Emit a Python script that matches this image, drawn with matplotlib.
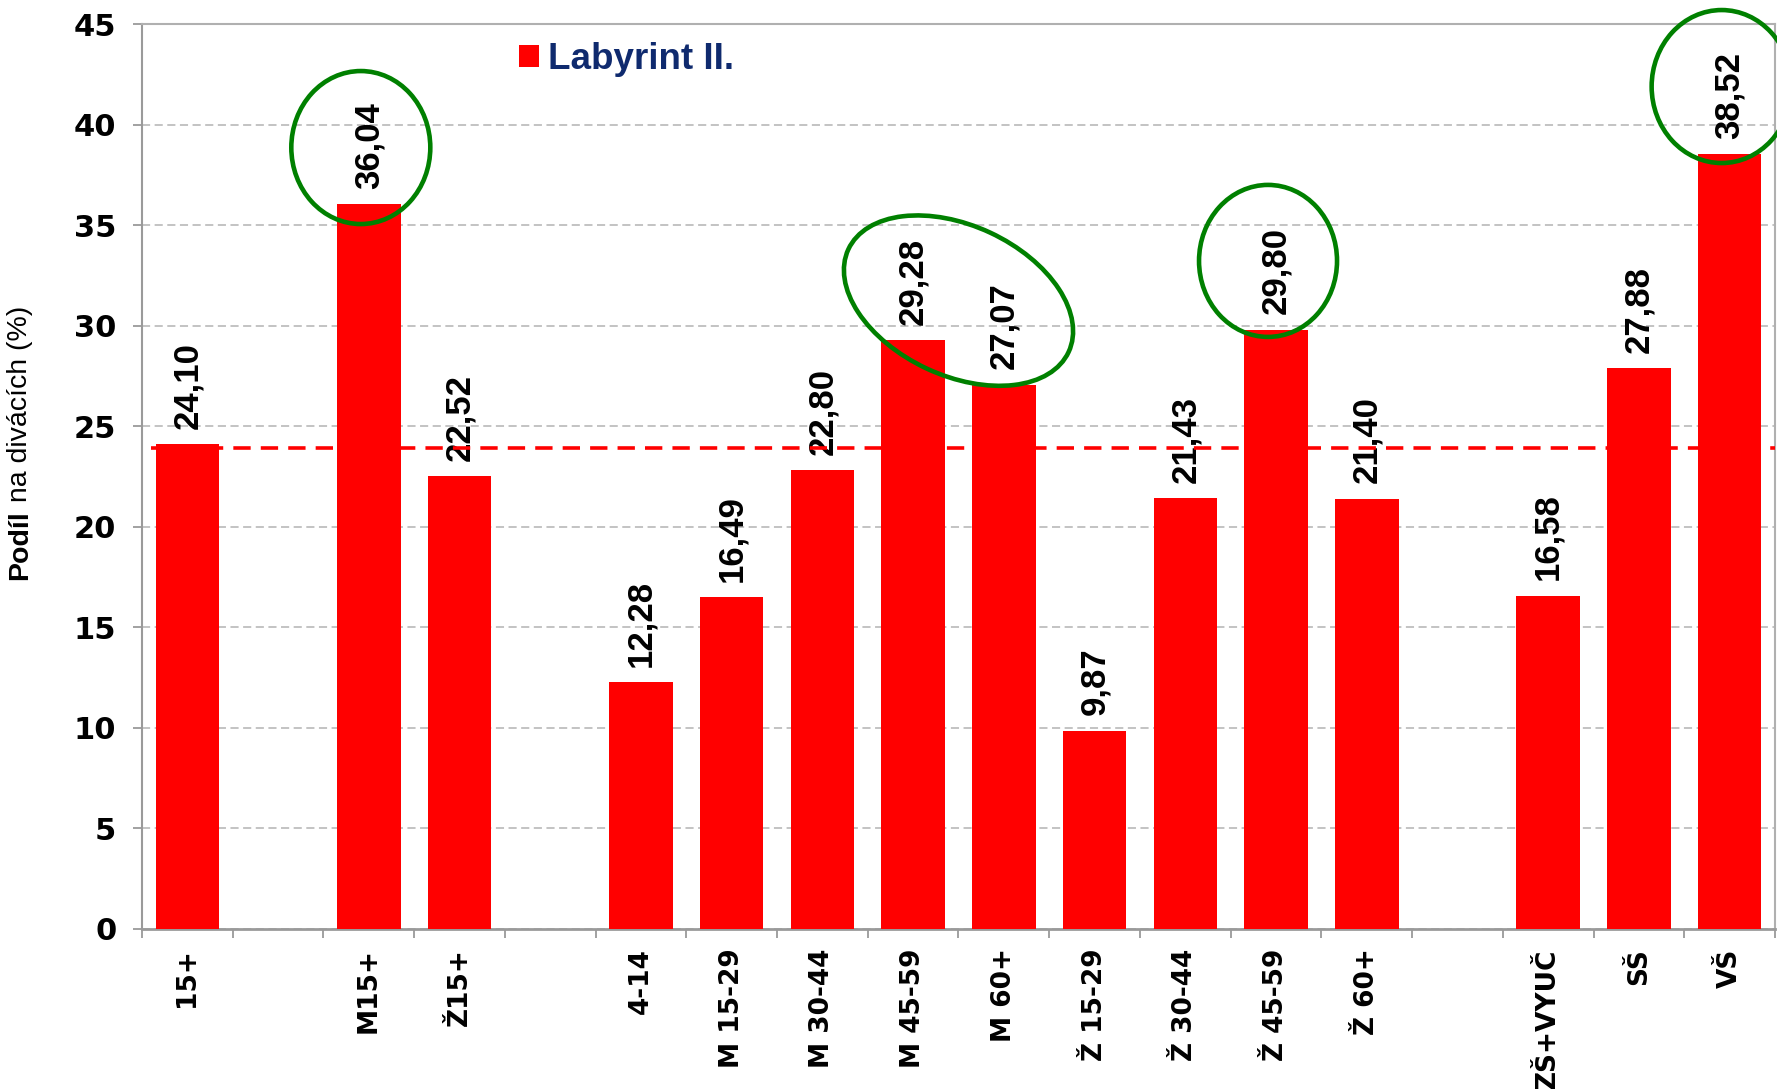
import matplotlib
matplotlib.use('Agg')
import matplotlib.pyplot as plt
import numpy as np
from matplotlib.patches import Ellipse
from matplotlib.transforms import IdentityTransform
from matplotlib.font_manager import FontProperties

# ---------------- data ----------------
groups = [
    ['15+'],
    ['M15+', 'Ž15+'],
    ['4-14', 'M 15-29', 'M 30-44', 'M 45-59', 'M 60+',
     'Ž 15-29', 'Ž 30-44', 'Ž 45-59', 'Ž 60+'],
    ['ZŠ+VYUČ', 'SŠ', 'VŠ'],
]
values = [24.10, 36.04, 22.52,
          12.28, 16.49, 22.80, 29.28, 27.07, 9.87, 21.43, 29.80, 21.40,
          16.58, 27.88, 38.52]
series_name = 'Labyrint II.'
reference_level = 23.9
highlights = [['M15+'], ['M 45-59', 'M 60+'], ['Ž 45-59'], ['VŠ']]
yticks = [0, 5, 10, 15, 20, 25, 30, 35, 40, 45]
ylabel_bold = 'Podíl'
ylabel_rest = ' na divácích (%)'

# ---------------- layout from groups ----------------
categories, positions = [], []
pos = 0
for gi, g in enumerate(groups):
    for c in g:
        categories.append(c)
        positions.append(pos)
        pos += 1
    if gi < len(groups) - 1:
        pos += 1  # empty slot between groups
nslots = pos

W, H, DPI = 1777, 1089, 100
fig = plt.figure(figsize=(W / DPI, H / DPI), dpi=DPI)
fig.patch.set_facecolor('white')
ax = fig.add_axes([142 / W, 1 - 929 / H, (1775 - 142) / W, (929 - 24) / H])

RED = '#FF0000'
GRID = '#BEBEBE'
SPINE = '#9A9A9A'

bars = ax.bar(positions, values, width=0.7, color=RED, zorder=3, label=series_name)

ax.set_xlim(-0.5, nslots - 0.5)
ax.set_ylim(0, 45)

# grid
ax.set_yticks(yticks)
ax.yaxis.grid(True, color=GRID, linestyle=(0, (4.5, 2.5)), linewidth=1.3, zorder=0)
ax.set_axisbelow(True)
for s in ax.spines.values():
    s.set_color('#B0B0B0')
    s.set_linewidth(1.5)
ax.spines['left'].set_color(SPINE)
ax.spines['bottom'].set_color(SPINE)
ax.spines['bottom'].set_linewidth(2)

ax.tick_params(axis='y', direction='out', length=6.5, width=1.3, color=SPINE,
               pad=12, labelsize=22)
for t in ax.get_yticklabels():
    t.set_fontweight('bold')

# x ticks: boundaries (major, no labels), centers (minor, labels)
ax.set_xticks(np.arange(-0.5, nslots, 1.0))
ax.set_xticklabels([])
ax.set_xticks(positions, minor=True)
ax.set_xticklabels(categories, minor=True, rotation=90, fontweight='bold', fontsize=19)
ax.tick_params(axis='x', which='major', direction='out', length=6.5, width=1.3, color=SPINE)
ax.tick_params(axis='x', which='minor', length=0, pad=14)

# reference dashed line
ax.hlines(reference_level, -0.4, nslots - 0.5, colors=RED, linestyles=(0, (4.8, 2.8)),
          linewidth=2.6, zorder=6)

# value labels
labels = {}
for c, x, v in zip(categories, positions, values):
    t = ax.annotate(f'{v:.2f}'.replace('.', ','), (x, v), xytext=(0, 11),
                    textcoords='offset points', rotation=90, ha='center', va='bottom',
                    fontsize=25, fontweight='bold', family='Liberation Sans',
                    color='black', zorder=5)
    labels[c] = t

# legend
ax.legend(handles=[bars], labels=[series_name], loc='upper left',
          bbox_to_anchor=(519 / W, 1 - 42 / H), bbox_transform=fig.transFigure,
          frameon=False, borderpad=0, borderaxespad=0, handlelength=0.55,
          handleheight=0.55, handletextpad=0.25, labelcolor='#0F2A6E',
          prop=FontProperties(family='Liberation Sans', weight='bold', size=26.5))

# y label (mixed weight)
fig.canvas.draw()
renderer = fig.canvas.get_renderer()
t1 = fig.text(20 / W, 509 / H, ylabel_bold, rotation=90, ha='center', va='bottom',
              fontsize=20.5, fontweight='bold', family='Liberation Sans')
bb = t1.get_window_extent(renderer)
fig.text(20 / W, bb.y1 / H, ylabel_rest, rotation=90, ha='center', va='bottom',
         fontsize=20.5, family='Liberation Sans')

# highlight ellipses (pixel sizes, offsets relative to label centres)
ell_style = [
    dict(w=139, h=153, angle=0, dx=-8, dy=-2),
    dict(w=243, h=150, angle=-25, dx=0, dy=3),
    dict(w=138, h=152, angle=0, dx=-8, dy=10),
    dict(w=140, h=153, angle=0, dx=-8, dy=9),
]
for hl, st in zip(highlights, ell_style):
    cs = []
    for c in hl:
        b = labels[c].get_window_extent(renderer)
        cs.append(((b.x0 + b.x1) / 2, (b.y0 + b.y1) / 2))
    cx = np.mean([p[0] for p in cs]) + st['dx']
    cy = np.mean([p[1] for p in cs]) + st['dy']
    e = Ellipse((cx, cy), st['w'], st['h'], angle=st['angle'], transform=IdentityTransform(),
                fill=False, edgecolor='#008000', linewidth=3.3, zorder=7, clip_on=False)
    fig.add_artist(e)

fig.savefig('out.png', dpi=DPI, facecolor='white')
